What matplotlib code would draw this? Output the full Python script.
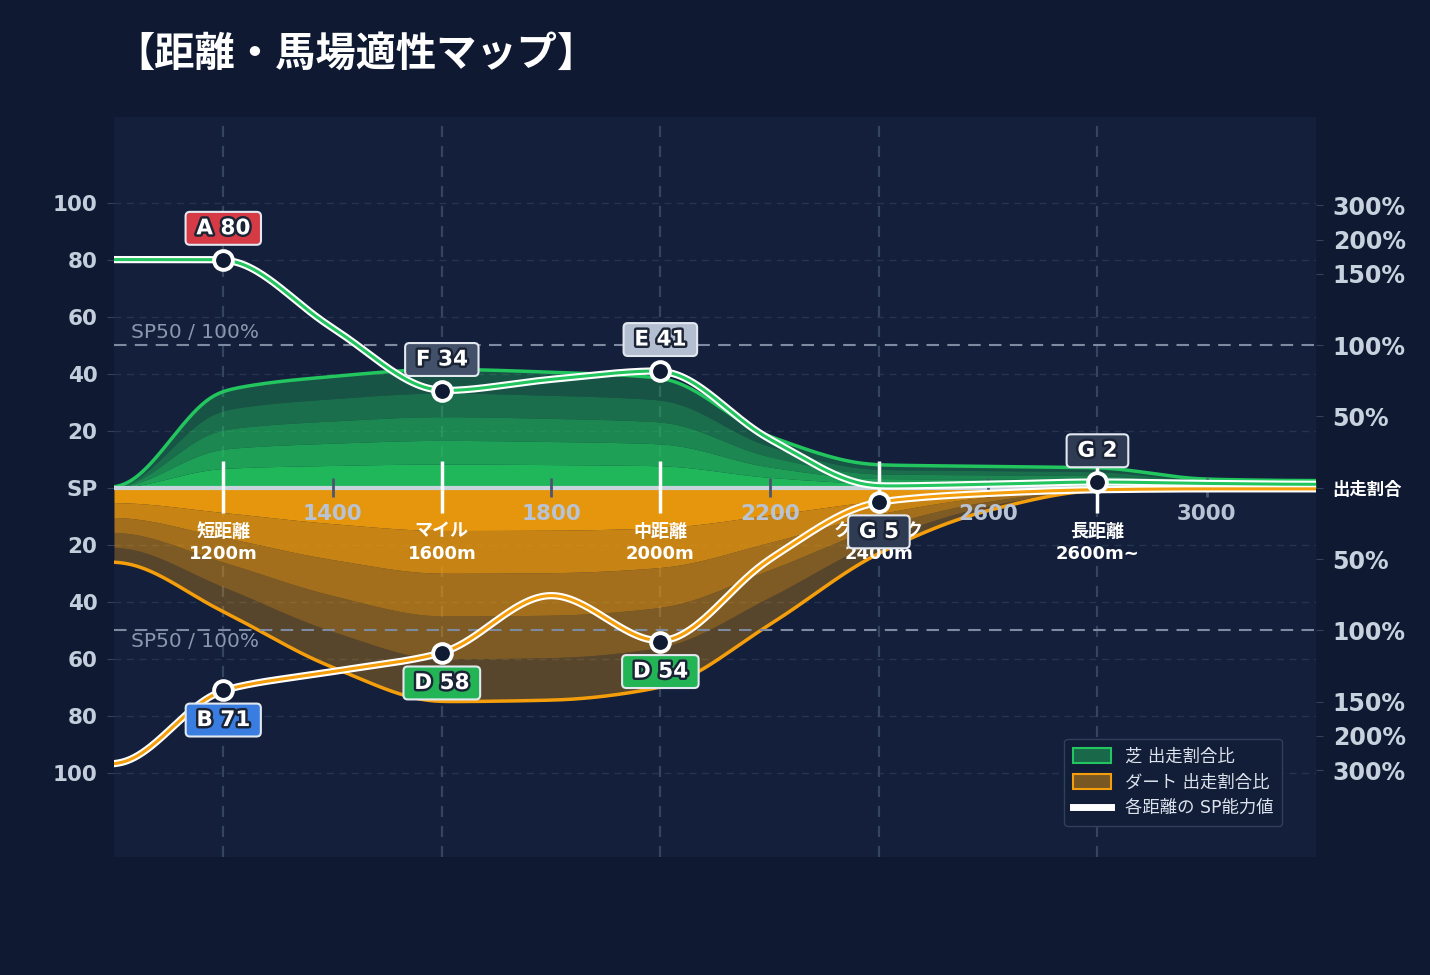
import numpy as np
import matplotlib
matplotlib.use("Agg")
import matplotlib.pyplot as plt
import matplotlib.patheffects as pe
from matplotlib.patches import Patch
from matplotlib.lines import Line2D

plt.rcParams['font.family'] = ['DejaVu Sans', 'Noto Sans CJK JP']

# distance grid (m) and values
dist = [1000, 1200, 1400, 1600, 1800, 2000, 2200, 2400, 2600, 2800, 3000, 3200]
turf_sp = [80, 80, 56, 34, 38, 41, 17, 0.6, 1.2, 2, 1.5, 1.2]
dirt_sp = [97, 71, 64.5, 58, 37.5, 54, 25, 5, 2, 0.7, 0.4, 0.4]
turf_ratio = [0, 68, 78, 83, 81, 77, 36, 16, 15, 14, 6, 5]
dirt_ratio = [52, 87, 126, 150, 149, 140, 96, 46, 16, 2, 0.8, 0.6]

cat_dist = [1200, 1600, 2000, 2400, 2800]
cat_names = ['短距離', 'マイル', '中距離', 'クラシック', '長距離']
cat_sub = ['1200m', '1600m', '2000m', '2400m', '2600m~']
turf_grade = ['A', 'F', 'E', None, 'G']
turf_val = [80, 34, 41, None, 2]
dirt_grade = ['B', 'D', 'D', 'G', None]
dirt_val = [71, 58, 54, 5, None]

num_ticks = [1400, 1800, 2200, 2600, 3000]
sp_ticks = [20, 40, 60, 80, 100]
pct_ticks = [50, 100, 150, 200, 300]

grade_col = {'A': '#d63a45', 'B': '#3a7de0', 'D': '#22b455', 'E': '#b4bed1',
             'F': '#435069', 'G': '#2f3b52'}

green = '#22c55e'
orange = '#f59e0b'
bg = '#0f1932'
panel = '#131f3b'


def ratio_to_y(p):
    p = np.asarray(p, float)
    return np.where(p <= 150, p / 2, 75 + 48 * (1 - 150 / np.maximum(p, 1e-9)))


def smooth(x, y, n=881, sigma=7):
    # monotone cubic through the points (flat ends), lightly softened
    x = np.asarray(x, float)
    y = np.asarray(y, float)
    h = np.diff(x)
    d = np.diff(y) / h
    m = np.zeros_like(y)
    for i in range(1, len(y) - 1):
        if d[i - 1] * d[i] > 0:
            w1 = 2 * h[i] + h[i - 1]
            w2 = h[i] + 2 * h[i - 1]
            m[i] = (w1 + w2) / (w1 / d[i - 1] + w2 / d[i])
    xs = np.linspace(x[0], x[-1], n)
    idx = np.clip(np.searchsorted(x, xs, side='right') - 1, 0, len(x) - 2)
    t = (xs - x[idx]) / h[idx]
    h00 = 2 * t**3 - 3 * t**2 + 1
    h10 = t**3 - 2 * t**2 + t
    h01 = -2 * t**3 + 3 * t**2
    h11 = t**3 - t**2
    ys = h00 * y[idx] + h10 * h[idx] * m[idx] + h01 * y[idx + 1] + h11 * h[idx] * m[idx + 1]
    k = np.arange(-3 * sigma, 3 * sigma + 1)
    w = np.exp(-0.5 * (k / sigma) ** 2)
    w /= w.sum()
    pad = np.pad(ys, 3 * sigma, mode='edge')
    ys = np.convolve(pad, w, mode='valid')
    return xs, ys


fig = plt.figure(figsize=(14.3, 9.75), dpi=100)
fig.patch.set_facecolor(bg)
ax = fig.add_axes([114 / 1430, 1 - 857 / 975, 1202 / 1430, 740 / 975])
ax.set_facecolor(panel)
ax.set_xlim(1000, 3200)
ax.set_ylim(-129.5, 130)
for s in ax.spines.values():
    s.set_visible(False)

# grid
for v in sp_ticks:
    for sgn in (1, -1):
        ax.axhline(sgn * v, color='#27344f', lw=1, ls=(0, (5, 4)), zorder=1)
for cd in cat_dist:
    ax.axvline(cd, color='#35445f', lw=1.6, ls=(0, (5, 4)), zorder=1)

# share bands
xs, ty = smooth(dist, ratio_to_y(turf_ratio))
_, dy = smooth(dist, ratio_to_y(dirt_ratio))
ty = np.maximum(ty, 0)
dy = np.maximum(dy, 0)
g_alpha = [0.92, 0.78, 0.63, 0.48, 0.32]
o_alpha = [0.94, 0.8, 0.64, 0.48, 0.31]
for k in range(5):
    ax.fill_between(xs, ty * k / 5, ty * (k + 1) / 5, color=green, alpha=g_alpha[k], lw=0, zorder=2)
    ax.fill_between(xs, -dy * k / 5, -dy * (k + 1) / 5, color=orange, alpha=o_alpha[k], lw=0, zorder=2)
ax.plot(xs, ty, color=green, lw=2.5, zorder=3)
ax.plot(xs, -dy, color=orange, lw=2.5, zorder=3)

# SP50 lines
for sgn, ty_txt in ((1, 54.5), (-1, -53.8)):
    ax.axhline(sgn * 50, color='#7d8aa0', lw=1.5, ls=(0, (6, 4)), zorder=3)
    ax.text(1031, ty_txt, 'SP50 / 100%', color='#8a97ad', fontsize=14.5, va='center', ha='left', zorder=3)

# center axis
ax.axhline(0, color='#c9d3de', lw=3, zorder=4)
for cd in cat_dist:
    ax.plot([cd, cd], [-9, 9.5], color='white', lw=2.5, zorder=4.5, solid_capstyle='butt')
for nt in num_ticks:
    ax.plot([nt, nt], [-3.2, 3.5], color='#4a5670', lw=2, zorder=4.5, solid_capstyle='butt')
    ax.text(nt, -9.2, str(nt), ha='center', va='center', fontsize=15.5, fontweight='bold',
            color='#b8c3d3', zorder=4.6)
for cd, nm, sub in zip(cat_dist, cat_names, cat_sub):
    ax.text(cd, -15.4, nm, ha='center', va='center', fontsize=13, fontweight='bold', color='white', zorder=4.6)
    ax.text(cd, -23.2, sub, ha='center', va='center', fontsize=13, fontweight='bold', color='white', zorder=4.6)

# SP lines
xs2, ts = smooth(dist, turf_sp)
_, ds = smooth(dist, dirt_sp)
ax.plot(xs2, ts, color='white', lw=5.2, zorder=5)
ax.plot(xs2, ts, color=green, lw=2.2, zorder=5.1)
ax.plot(xs2, -ds, color='white', lw=5.2, zorder=5)
ax.plot(xs2, -ds, color=orange, lw=2.2, zorder=5.1)

stroke = [pe.withStroke(linewidth=3.5, foreground='#1b2436')]
box = dict(boxstyle='round,pad=0.3,rounding_size=0.2', ec='#e2e8f0', lw=1.5)
for cd, g, v in zip(cat_dist, turf_grade, turf_val):
    if g is None:
        continue
    ax.plot(cd, v, 'o', ms=13.5, mfc='#101a33', mec='white', mew=2.8, zorder=8)
    ax.annotate(f'\u2009{g} {v}\u2009', (cd, v), xytext=(0, 22.5), textcoords='offset points', ha='center',
                va='center', fontsize=15.5, fontweight='bold', color='white', zorder=9, path_effects=stroke,
                bbox=dict(box, fc=grade_col[g]))
for cd, g, v in zip(cat_dist, dirt_grade, dirt_val):
    if g is None:
        continue
    ax.plot(cd, -v, 'o', ms=13.5, mfc='#101a33', mec='white', mew=2.8, zorder=8)
    ax.annotate(f'\u2009{g} {v}\u2009', (cd, -v), xytext=(0, -21.5), textcoords='offset points', ha='center',
                va='center', fontsize=15.5, fontweight='bold', color='white', zorder=9, path_effects=stroke,
                bbox=dict(box, fc=grade_col[g]))

# left axis
yt = [v for v in sp_ticks[::-1]] + [0] + [-v for v in sp_ticks]
yl = [str(v) for v in sp_ticks[::-1]] + ['SP'] + [str(v) for v in sp_ticks]
ax.set_yticks(yt)
ax.set_yticklabels(yl)
ax.set_xticks([])
ax.tick_params(axis='y', length=5, color='#34415c', pad=7, labelsize=15.5, labelcolor='#c3cddb')
for lab in ax.get_yticklabels():
    lab.set_fontweight('bold')

# right axis
ax2 = ax.twinx()
ax2.set_ylim(ax.get_ylim())
for s in ax2.spines.values():
    s.set_visible(False)
rpos = list(ratio_to_y(pct_ticks[::-1])) + [0] + list(-ratio_to_y(pct_ticks))
rlab = [f'{p}%' for p in pct_ticks[::-1]] + ['出走割合'] + [f'{p}%' for p in pct_ticks]
ax2.set_yticks(rpos)
ax2.set_yticklabels(rlab)
ax2.tick_params(axis='y', length=5, color='#34415c', pad=7, labelsize=17, labelcolor='#c8d2de')
for lab in ax2.get_yticklabels():
    lab.set_fontweight('bold')
    if lab.get_text() == '出走割合':
        lab.set_fontsize(12.5)
        lab.set_color('white')

# legend
handles = [Patch(facecolor=(0.133, 0.773, 0.369, 0.45), edgecolor=green, lw=1.5),
           Patch(facecolor=(0.96, 0.62, 0.04, 0.45), edgecolor=orange, lw=1.5),
           Line2D([], [], color='white', lw=5)]
labels = ['芝 出走割合比', 'ダート 出走割合比', '各距離の SP能力値']
leg = ax2.legend(handles, labels, loc='lower right', bbox_to_anchor=(0.972, 0.042), fontsize=12.5,
                 labelcolor='#dde3ec', facecolor='#121d38', edgecolor='#34415c', framealpha=0.95,
                 handlelength=2.2, handleheight=0.9, borderpad=0.5, labelspacing=0.45, borderaxespad=0)
leg.set_zorder(20)

fig.text(0.080, 0.944, '【距離・馬場適性マップ】', fontsize=29, fontweight='bold', color='white',
         family=['Noto Sans CJK JP'], va='center', ha='left')

fig.savefig('out.png', dpi=100, facecolor=bg)
